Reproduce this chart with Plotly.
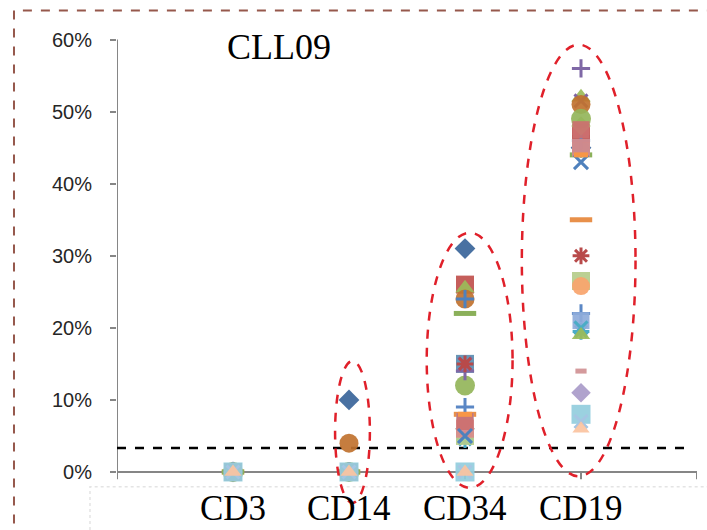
import plotly.graph_objects as go

# ---------------- data ----------------
categories = ["CD3", "CD14", "CD34", "CD19"]
cat_x = [1, 2, 3, 4]
title_text = "CLL09"
threshold = 3.33
yticks = [0, 10, 20, 30, 40, 50, 60]

# series values at CD3, CD14, CD34, CD19 (percent)
s01 = [0, 10, 31, 45]
s02 = [0, 0, 26, 47]
s03 = [0, 0, 25.5, 52]
s04 = [0, 0, 15, 51.5]
s05 = [0, 0, 4.5, 19.5]
s06 = [0, 4, 24, 51]
s07 = [0, 0, 24, 46]
s08 = [0, 0, 8, 35]
s09 = [0, 0, 22, 44]
s10 = [0, 0, 6, 48]
s11 = [0, 0, 15, 45.5]
s12 = [0, 0, 12, 49]
s13 = [0, 0, 14, 56]
s14 = [0, 0, 9, 22]
s15 = [0, 0, 15, 30]
s16 = [0, 0, 5, 26.5]
s17 = [0, 0, 7, 25.8]
s18 = [0, 0, 7, 21]
s19 = [0, 0, 5, 20]
s20 = [0, 0, 6.5, 19]
s21 = [0, 0, 5.5, 14]
s22 = [0, 0, 6, 11]
s23 = [0, 0, 6, 45]
s24 = [0, 0, 7, 47.5]
s25 = [0, 0, 8, 44]
s29 = [0, 0, 5, 43]
s26 = [0, 0, 0, 8]
s27 = [0, 0, 0, 7]
s28 = [0, 0, 0, 6]

series = [
    (s01, "diamond", "#3A659A", 16),
    (s11, "square", "#5B8DB0", 18),
    (s02, "square", "#C0504D", 18),
    (s03, "triangle-up", "#9BBB59", 17),
    (s04, "x-thin", "#8064A2", 13),
    (s05, "asterisk", "#4BACC6", 14),
    (s06, "circle", "#C0722F", 19),
    (s07, "cross-thin", "#4F81BD", 13),
    (s08, "line-ew", "#E8904A", 16),
    (s09, "line-ew", "#8BB05A", 16),
    (s10, "diamond", "#A6C46E", 15),
    (s12, "circle", "#94B55A", 20),
    (s13, "cross-thin", "#7F68A6", 13),
    (s14, "cross-thin", "#5B87C5", 13),
    (s15, "asterisk", "#B84A4A", 14),
    (s16, "square", "#B5CC8A", 18),
    (s17, "circle", "#F9A46C", 18),
    (s18, "square", "#8EABDA", 17),
    (s19, "x-thin", "#4BACC6", 13),
    (s20, "triangle-up", "#9BBB59", 16),
    (s21, "line-ew", "#D49A9C", 8),
    (s22, "diamond", "#A99BC9", 15),
    (s23, "square", "#D88A8A", 18),
    (s24, "square", "#CC7070", 17),
    (s29, "x-thin", "#4F81BD", 14),
    (s25, "line-ew", "#F79646", 10),
    (s26, "square", "#93CDDD", 19),
    (s27, "x-thin", "#A6C5E3", 13),
    (s28, "triangle-up", "#FBC3A0", 15),
]

# highlight ellipses: (x0, x1, y0, y1) in category / percent units
ellipses = [
    (1.88, 2.18, -4.3, 15.4),
    (2.67, 3.41, -2.2, 33.2),
    (3.49, 4.47, -0.6, 59.3),
]

fig = go.Figure()
for vals, sym, col, size in series:
    if sym in ("line-ew", "x-thin", "cross-thin", "asterisk"):
        lw = 5 if sym == "line-ew" else 3
        marker = dict(symbol=sym, size=size, color=col,
                      line=dict(color=col, width=lw))
    else:
        marker = dict(symbol=sym, size=size, color=col, opacity=0.92,
                      line=dict(width=0))
    fig.add_trace(go.Scatter(x=cat_x, y=vals, mode="markers", marker=marker,
                             showlegend=False, cliponaxis=False,
                             hoverinfo="skip"))

shapes = []
# axis lines
shapes.append(dict(type="line", xref="x", yref="y", x0=0, x1=0, y0=0, y1=60,
                   line=dict(color="#868686", width=2), layer="below"))
shapes.append(dict(type="line", xref="x", yref="y", x0=0, x1=5, y0=0, y1=0,
                   line=dict(color="#868686", width=2), layer="below"))
for k in range(6):
    shapes.append(dict(type="line", xref="x", yref="y", x0=k, x1=k, y0=0, y1=-1,
                       line=dict(color="#868686", width=2), layer="below"))
# threshold dashed line
shapes.append(dict(type="line", xref="x", yref="y", x0=0, x1=4.95,
                   y0=threshold, y1=threshold,
                   line=dict(color="black", width=2.5, dash="dash"), layer="below"))
# ellipses
for x0, x1, y0, y1 in ellipses:
    shapes.append(dict(type="circle", xref="x", yref="y", x0=x0, x1=x1, y0=y0, y1=y1,
                       line=dict(color="#E0202A", width=2.5, dash="dash"), layer="above"))
# outer dashed border
shapes.append(dict(type="rect", xref="paper", yref="paper", x0=-0.1776, x1=1.05,
                   y0=-0.2, y1=1.054,
                   line=dict(color="#96584C", width=2, dash="dash")))
# faint dotted box at bottom
shapes.append(dict(type="rect", xref="paper", yref="paper", x0=-0.0466, x1=1.05,
                   y0=-0.2, y1=0.045,
                   line=dict(color="#E4E4E4", width=1.5, dash="dot"), layer="below"))

annotations = [dict(text=title_text, x=1.4, y=59, xref="x", yref="y",
                    showarrow=False, xanchor="center", yanchor="middle",
                    font=dict(family="Liberation Serif", size=36, color="black"))]
for cx, lab in zip(cat_x, categories):
    annotations.append(dict(text=lab, x=cx, y=0, xref="x", yref="y",
                            showarrow=False, xanchor="center", yanchor="middle",
                            yshift=-37,
                            font=dict(family="Liberation Serif", size=35, color="black")))

fig.update_layout(
    width=707, height=530,
    margin=dict(l=117, r=10, t=36, b=22),
    plot_bgcolor="white", paper_bgcolor="white",
    shapes=shapes, annotations=annotations,
    xaxis=dict(range=[0, 5], showgrid=False, zeroline=False, showline=False,
               showticklabels=False, ticks=""),
    yaxis=dict(range=[-5, 60.5], showgrid=False, zeroline=False, showline=False,
               tickvals=yticks, ticktext=[f"{v}%" for v in yticks],
               ticks="outside", ticklen=6, tickwidth=2, tickcolor="#868686",
               ticklabelstandoff=14,
               tickfont=dict(family="Liberation Sans", size=20, color="#262626")),
)

fig.write_html("out.html")
